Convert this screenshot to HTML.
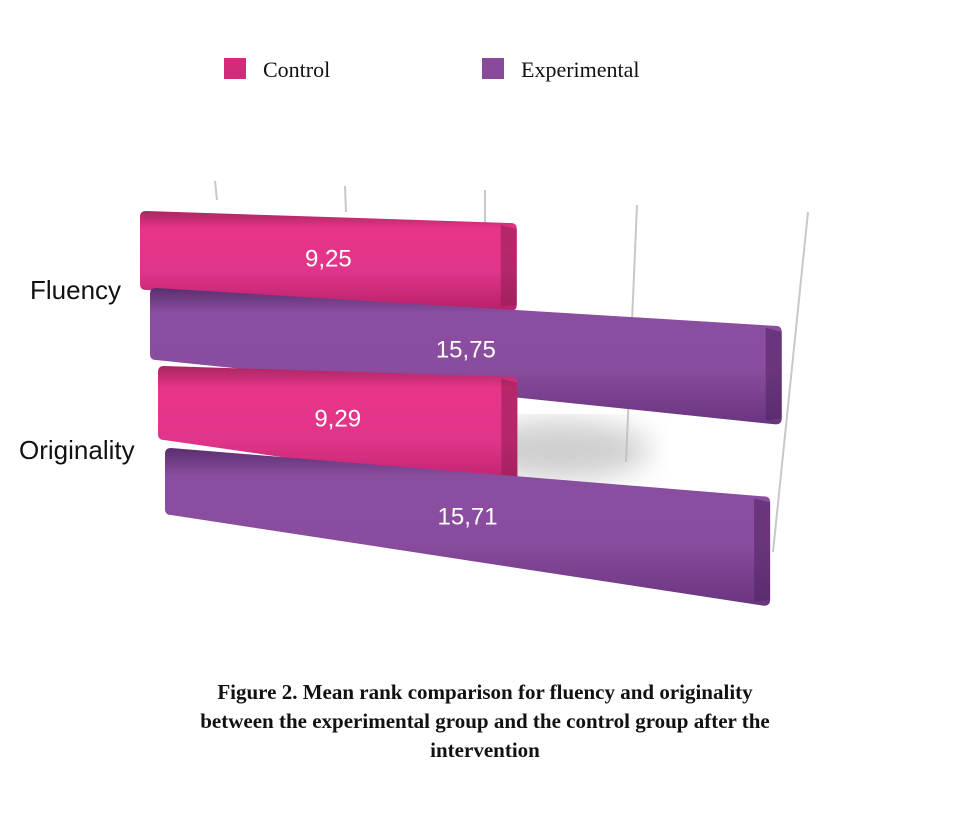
<!DOCTYPE html>
<html><head><meta charset="utf-8">
<style>
body{margin:0;background:#fff;width:959px;height:809px;overflow:hidden;font-family:"Liberation Sans",sans-serif}
</style></head>
<body>
<svg width="959" height="809" viewBox="0 0 959 809">
<defs>
<linearGradient id="gPink" x1="0" y1="0" x2="0" y2="1">
<stop offset="0" stop-color="#a8265f"/><stop offset="0.18" stop-color="#e8348a"/><stop offset="0.6" stop-color="#e0358a"/><stop offset="1" stop-color="#b8206a"/></linearGradient>
<linearGradient id="gPurp" x1="0" y1="0" x2="0" y2="1">
<stop offset="0" stop-color="#5a2e6e"/><stop offset="0.18" stop-color="#8a4ea0"/><stop offset="0.6" stop-color="#8a4c9e"/><stop offset="1" stop-color="#6a3480"/></linearGradient>
<filter id="blur"><feGaussianBlur stdDeviation="14"/></filter>
</defs>
<g>
<rect x="224" y="58" width="22" height="21" fill="#d42a7c"/>
<text x="263" y="77" font-family="Liberation Serif,serif" font-size="22" fill="#111">Control</text>
<rect x="482" y="58" width="22" height="21" fill="#8a4a9c"/>
<text x="521" y="77" font-family="Liberation Serif,serif" font-size="22" fill="#111">Experimental</text>
</g>
<g id="grid">
<line x1="215" y1="181" x2="217" y2="200" stroke="#c8c8c8" stroke-width="2"/>
<line x1="345" y1="186" x2="346" y2="212" stroke="#c8c8c8" stroke-width="2"/>
<line x1="485" y1="190" x2="485" y2="225" stroke="#c8c8c8" stroke-width="2"/>
<line x1="637" y1="205" x2="626" y2="462" stroke="#c8c8c8" stroke-width="2"/>
<line x1="808" y1="212" x2="773" y2="552" stroke="#c8c8c8" stroke-width="2"/>
</g>
<ellipse cx="560" cy="450" rx="90" ry="30" fill="#bbb" filter="url(#blur)" opacity="0.7"/>
<g id="bars"></g>
<text x="30" y="299" font-size="26" fill="#111">Fluency</text>
<text x="19" y="459" font-size="26" fill="#111">Originality</text>
<g font-family="Liberation Serif,serif" font-weight="bold" font-size="21" text-anchor="middle" fill="#111">
<text x="485" y="699">Figure 2.  Mean rank comparison for fluency and originality</text>
<text x="485" y="728">between the experimental group and the control group after the</text>
<text x="485" y="757">intervention</text>
</g>
</svg>
<script>
const categories = ["Fluency", "Originality"];
const controlValues = [9.25, 9.29];
const experimentalValues = [15.75, 15.71];
const valueLabels = [["9,25","15,75"],["9,29","15,71"]];
const unit = 40.3;
function xScale(v){ return v * unit; }
// per-bar perspective layout: [leftX, zeroX, topLeftY, botLeftY, slopeTop, slopeBot]
const layout = [[[140,144,211,290,0.032,0.055],[150,147,288,360,0.06,0.102]],
                [[158,143,366,440,0.03,0.14],[165,137,448,515,0.08,0.15]]];
const ns="http://www.w3.org/2000/svg";
const g=document.getElementById('bars');
function mk(tag,attrs){const e=document.createElementNS(ns,tag);for(const k in attrs)e.setAttribute(k,attrs[k]);return e;}
categories.forEach((c,ci)=>{
  [controlValues[ci], experimentalValues[ci]].forEach((v,si)=>{
    const [x0,z,t,b,st,sb]=layout[ci][si];
    const x1=z+xScale(v), w=x1-x0;
    const t1=t+st*w, b1=b+sb*w;
    const grp=mk('g',{});
    
    
    const body=mk('path',{d:`M${x0+6},${t} L${x1-6},${t1} Q${x1},${t1} ${x1},${t1+6} L${x1},${b1-6} Q${x1},${b1} ${x1-6},${b1} L${x0+6},${b} Q${x0},${b} ${x0},${b-6} L${x0},${t+6} Q${x0},${t} ${x0+6},${t} Z`,fill:si?'url(#gPurp)':'url(#gPink)'});
    grp.appendChild(body);
    const cap=mk('path',{d:`M${x1-16},${t1+2} L${x1},${t1+6} L${x1},${b1-6} L${x1-16},${b1-4} Z`,fill:si?'#4e2460':'#8e1d50',opacity:0.55});
    grp.appendChild(cap);
    const lab=mk('text',{x:(x0+x1)/2,y:(t+b+t1+b1)/4+8,'text-anchor':'middle','font-size':24,fill:'#fff'});
    lab.textContent=valueLabels[ci][si];
    
    
    grp.appendChild(lab);
    g.appendChild(grp);
  });
});
</script>
</body></html>
